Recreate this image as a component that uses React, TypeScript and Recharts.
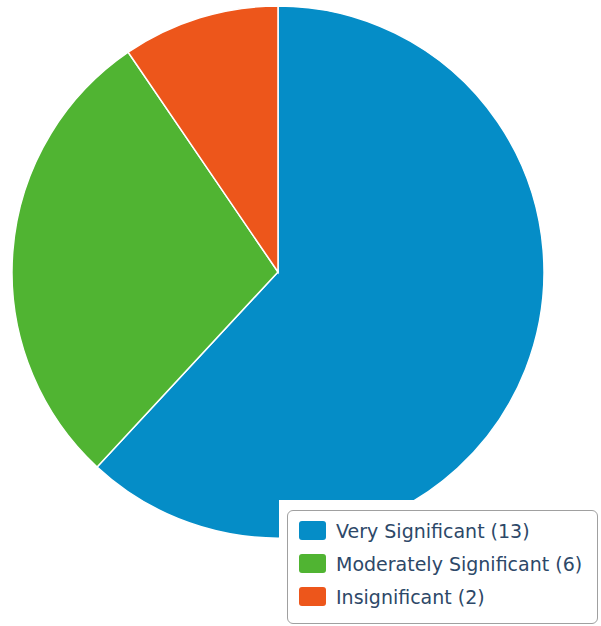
import { Cell, Legend, Pie, PieChart } from 'recharts';

const categories = ['Very Significant', 'Moderately Significant', 'Insignificant'];
const counts = [13, 6, 2];
const colors = ['#058DC7', '#50B432', '#ED561B'];

const data = categories.map((name, i) => ({ name, value: counts[i] }));

const LegendBox = () => (
  <div
    style={{
      width: 322,
      height: 126,
      background: '#fff',
      paddingLeft: 8,
      paddingTop: 10,
      boxSizing: 'border-box'
    }}
  >
    <div
      style={{
        width: 311,
        height: 114,
        border: '1.5px solid #a0a0a0',
        borderRadius: 6,
        boxSizing: 'border-box',
        paddingTop: 3,
        paddingLeft: 11
      }}
    >
      {data.map((d, i) => (
        <div
          key={d.name}
          style={{ display: 'flex', alignItems: 'center', height: 33 }}
        >
          <div
            style={{
              width: 27,
              height: 19,
              borderRadius: 3,
              background: colors[i],
              marginRight: 10
            }}
          />
          <span
            style={{
              fontFamily: 'DejaVu Sans, sans-serif',
              fontSize: 19,
              color: '#2d4868',
              whiteSpace: 'nowrap'
            }}
          >
            {d.name} ({d.value})
          </span>
        </div>
      ))}
    </div>
  </div>
);

export default function App() {
  return (
    <div style={{ position: 'absolute', left: 0, top: 0 }}>
      <PieChart
        width={601}
        height={626}
        margin={{ top: 0, right: 0, bottom: 0, left: 0 }}
      >
        <Pie
          data={data}
          dataKey="value"
          nameKey="name"
          cx={278}
          cy={272}
          outerRadius={266}
          startAngle={90}
          endAngle={-270}
          stroke="#fff"
          strokeWidth={1.5}
          isAnimationActive={false}
        >
          {data.map((d, i) => (
            <Cell key={d.name} fill={colors[i]} />
          ))}
        </Pie>
        <Legend
          content={<LegendBox />}
          wrapperStyle={{ left: 279, top: 500, width: 322, height: 126 }}
        />
      </PieChart>
    </div>
  );
}
